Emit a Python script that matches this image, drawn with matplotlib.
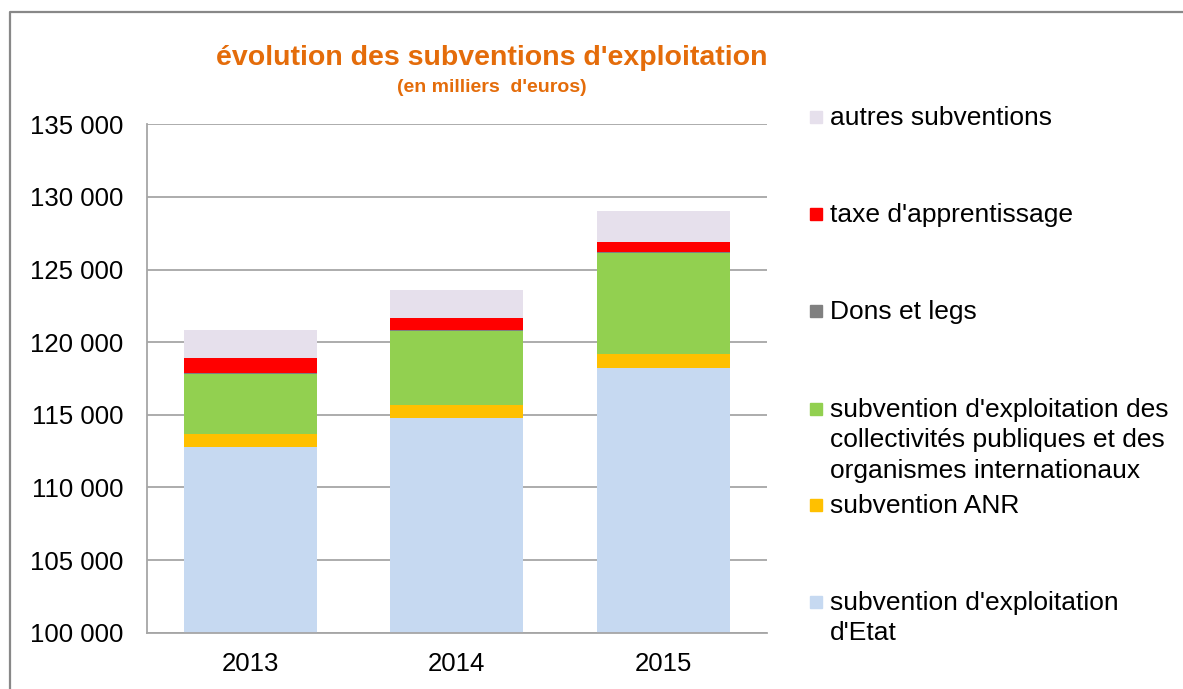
import numpy as np
import matplotlib
matplotlib.use('Agg')
import matplotlib.pyplot as plt
from matplotlib.patches import Rectangle
from matplotlib.lines import Line2D

plt.rcParams['font.family'] = ['Liberation Sans', 'DejaVu Sans']

# données (en milliers d'euros)
annees = ['2013', '2014', '2015']
etat = [112770, 114800, 118240]
anr = [890, 875, 960]
collectivites = [4170, 5065, 6920]
dons = [80, 80, 80]
taxe = [1010, 850, 665]
autres = [1920, 1940, 2195]

series = [
    ["subvention d'exploitation\nd'Etat", etat, '#C6D9F1'],
    ['subvention ANR', anr, '#FFC000'],
    ["subvention d'exploitation des\ncollectivités publiques et des\norganismes internationaux", collectivites, '#92D050'],
    ['Dons et legs', dons, '#808080'],
    ["taxe d'apprentissage", taxe, '#FF0000'],
    ['autres subventions', autres, '#E6E0EC'],
]

W, H = 1183, 689
fig = plt.figure(figsize=(W / 100, H / 100), dpi=100)
ax = fig.add_axes([147 / W, 1 - 632.7 / H, 619.5 / W, 508.4 / H])

x = np.arange(len(annees))
bas = np.zeros(len(annees))
for nom, vals, couleur in series:
    ax.bar(x, vals, width=0.644, bottom=bas, color=couleur, edgecolor='none', zorder=2)
    bas = bas + np.array(vals)

ax.set_ylim(100000, 135000)
ax.set_xlim(-0.5, 2.5)
ax.set_yticks(np.arange(100000, 135001, 5000))
ax.set_yticklabels(['{:,}'.format(v).replace(',', ' ') for v in range(100000, 135001, 5000)])
ax.set_xticks(x)
ax.set_xticklabels(annees)
ax.tick_params(axis='y', length=0, pad=17, labelsize=18.5, colors='#000000')
ax.tick_params(axis='x', length=0, pad=14, labelsize=18.5, colors='#000000')
ax.yaxis.grid(True, color='#A6A6A6', linewidth=1.3, zorder=0)
ax.set_axisbelow(True)
for s in ['top', 'right']:
    ax.spines[s].set_visible(False)
for s in ['left', 'bottom']:
    ax.spines[s].set_color('#A6A6A6')
    ax.spines[s].set_linewidth(1.3)

# titre
orange = '#E46C0A'
fig.text(492 / W, 1 - 58 / H, "évolution des subventions d'exploitation", ha='center', va='center',
         fontsize=20.5, fontweight='bold', color=orange)
fig.text(492 / W, 1 - 88 / H, "(en milliers  d'euros)", ha='center', va='center',
         fontsize=14, fontweight='bold', color=orange)

# légende manuelle (espacement régulier)
pos_y = [602, 505, 409, 311, 214, 117]
for (nom, vals, couleur), y in zip(series, pos_y):
    fig.patches.append(Rectangle((810 / W, 1 - (y + 6) / H), 12 / W, 12 / H,
                                 transform=fig.transFigure, color=couleur, figure=fig))
    fig.text(830 / W, 1 - (y - 11) / H, nom, ha='left', va='top', fontsize=19,
             linespacing=1.33, color='#000000')

# cadre
fig.lines.append(Line2D([10 / W, 10 / W, 1.0], [0.0, 1 - 12 / H, 1 - 12 / H],
                        transform=fig.transFigure, color='#888888', linewidth=1.6, figure=fig))

plt.savefig('out.png', dpi=100)
